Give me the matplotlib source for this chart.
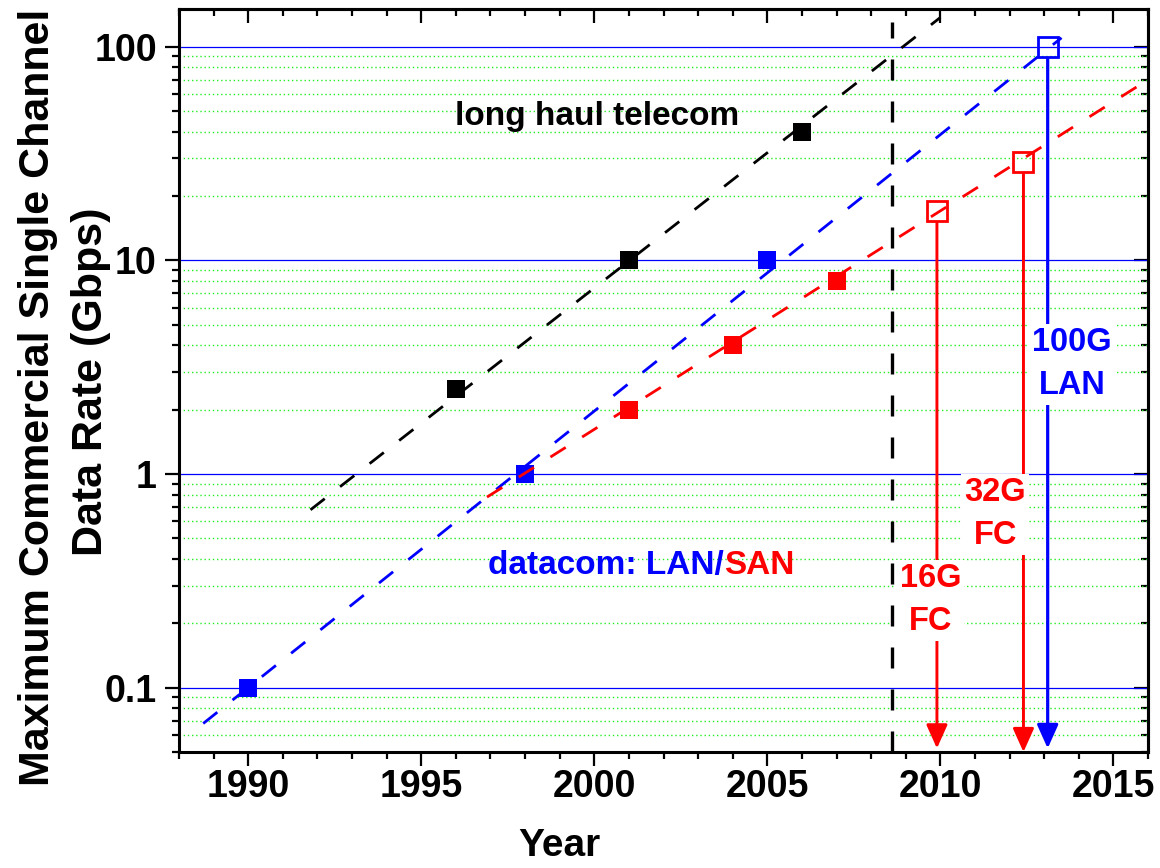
import matplotlib

matplotlib.use("Agg")
import matplotlib.pyplot as plt
from matplotlib.ticker import FixedLocator, LogLocator, MultipleLocator, NullFormatter

plt.rcParams["font.family"] = ["Liberation Sans", "DejaVu Sans"]
plt.rcParams["font.weight"] = "bold"

# measured single-channel rates (Gbps)
telecom_years = [1996, 2001, 2006]
telecom_rates = [2.5, 10, 40]
lan_years = [1990, 1998, 2005]
lan_rates = [0.1, 1, 10]
san_years = [2001, 2004, 2007]
san_rates = [2, 4, 8]

# announced / projected products
fc_next_years = [2009.9, 2012.4]
fc_next_rates = [17, 29]
fc_next_labels = ["16G\nFC", "32G\nFC"]
lan_next_years = [2013.1]
lan_next_rates = [100]
lan_next_labels = ["100G\nLAN"]

# trend lines (end points)
telecom_trend_years = [1991.8, 2010.0]
telecom_trend_rates = [0.68, 137]
lan_trend_years = [1988.7, 2013.5]
lan_trend_rates = [0.068, 110]
san_trend_years = [1996.9, 2016.0]
san_trend_rates = [0.78, 70]
today_year = 2008.6

year_ticks = [1990, 1995, 2000, 2005, 2010, 2015]
rate_ticks = [0.1, 1, 10, 100]
rate_tick_labels = ["0.1", "1", "10", "100"]

BLUE = "#0000ff"
RED = "#ff0000"

fig = plt.figure(figsize=(11.6, 8.68), dpi=100)
ax = fig.add_axes([0.1543, 0.1336, 0.8354, 0.8560])
ax.set_yscale("log")
ax.set_xlim(1988, 2016)
ax.set_ylim(0.05, 150)

ax.set_xticks(year_ticks)
ax.xaxis.set_minor_locator(MultipleLocator(1))
ax.set_yticks(rate_ticks, rate_tick_labels)
ax.yaxis.set_minor_locator(LogLocator(base=10, subs=range(2, 10)))
ax.yaxis.set_minor_formatter(NullFormatter())

ax.grid(True, which="major", axis="y", color=BLUE, lw=0.9)
ax.grid(True, which="minor", axis="y", color="#22ee22", lw=1.0, linestyle=(0, (1, 2)))
ax.set_axisbelow(True)

ax.tick_params(which="both", direction="out", width=1.6, labelsize=27, top=False, right=False)
ax.tick_params(which="major", length=10)
ax.tick_params(which="minor", length=5)
ax.tick_params(axis="x", pad=2)
ax.tick_params(axis="y", pad=6)
for sp in ax.spines.values():
    sp.set_linewidth(2.2)

# mirrored ticks pointing inwards on top and right
top = ax.secondary_xaxis("top")
top.xaxis.set_major_locator(FixedLocator(year_ticks))
top.xaxis.set_minor_locator(MultipleLocator(1))
top.tick_params(which="both", direction="in", width=1.6, labeltop=False)
top.tick_params(which="major", length=10)
top.tick_params(which="minor", length=5)
top.spines["top"].set_linewidth(2.2)

right = ax.secondary_yaxis("right")
right.yaxis.set_major_locator(FixedLocator(rate_ticks))
right.yaxis.set_minor_locator(LogLocator(base=10, subs=range(2, 10)))
right.yaxis.set_major_formatter(NullFormatter())
right.yaxis.set_minor_formatter(NullFormatter())
right.tick_params(which="both", direction="in", width=1.6, labelright=False)
right.tick_params(which="major", length=10)
right.tick_params(which="minor", length=5)
right.spines["right"].set_linewidth(2.2)

# data points
ax.plot(telecom_years, telecom_rates, "s", color="black", ms=13.5, mew=0, zorder=3)
ax.plot(lan_years, lan_rates, "s", color=BLUE, ms=13.5, mew=0, zorder=3)
ax.plot(san_years, san_rates, "s", color=RED, ms=13.5, mew=0, zorder=3)
ax.plot(fc_next_years, fc_next_rates, "s", mfc="none", mec=RED, ms=15, mew=2, zorder=3)
ax.plot(lan_next_years, lan_next_rates, "s", mfc="none", mec=BLUE, ms=15, mew=2, zorder=3)

# trend lines
dash = (0, (6.5, 7))
ax.plot(telecom_trend_years, telecom_trend_rates, color="black", lw=2, linestyle=dash, zorder=4)
ax.plot(lan_trend_years, lan_trend_rates, color=BLUE, lw=2, linestyle=dash, zorder=4)
ax.plot(san_trend_years, san_trend_rates, color=RED, lw=2, linestyle=dash, zorder=4)
ax.plot([today_year, today_year], [0.05, 130], color="black", lw=2.4,
        linestyle=(0, (6.3, 6.3)), zorder=4)

# arrows from the projected products down to the axis
arrow_tips = [0.052, 0.05]
for yr, rate, tip in zip(fc_next_years, fc_next_rates, arrow_tips):
    ax.annotate("", xy=(yr, tip), xytext=(yr, rate),
                arrowprops=dict(arrowstyle="-|>,head_length=1.45,head_width=0.65", color=RED,
                                lw=2.1, shrinkA=8.5, shrinkB=0, mutation_scale=10),
                zorder=4, annotation_clip=False)
for yr, rate in zip(lan_next_years, lan_next_rates):
    ax.annotate("", xy=(yr, 0.052), xytext=(yr, rate),
                arrowprops=dict(arrowstyle="-|>,head_length=1.45,head_width=0.65", color=BLUE,
                                lw=2.3, shrinkA=8.5, shrinkB=0, mutation_scale=10),
                zorder=4, annotation_clip=False)

box = dict(boxstyle="square,pad=0.1", fc="white", ec="none")
label_pos = [(2009.71, 0.256), (2011.58, 0.647)]
for (lx, ly), txt in zip(label_pos, fc_next_labels):
    ax.text(lx, ly, txt, color=RED, fontsize=23.5, ha="center", va="center",
            linespacing=1.5, bbox=box, zorder=6)
ax.text(2013.81, 3.26, lan_next_labels[0], color=BLUE, fontsize=23.5, ha="center", va="center",
        linespacing=1.5, bbox=box, zorder=6)

ax.text(2000.07, 43, "long haul telecom", color="black", fontsize=24, ha="center", va="baseline")
t1 = ax.text(1996.93, 0.34, "datacom: LAN/", color=BLUE, fontsize=24, ha="left", va="baseline")
ax.annotate("SAN", xy=(1, 0), xycoords=t1, color=RED, fontsize=24, ha="left", va="bottom")

ax.set_xlabel("Year", fontsize=28, fontweight="bold")
ax.xaxis.set_label_coords(0.393, -0.1023)

# two-line y axis title, each line placed on its own baseline
fig.text(49 / 1160, 1 - 397 / 868, "Maximum Commercial Single Channel", fontsize=31,
         fontweight="bold", rotation=90, rotation_mode="anchor", ha="center", va="baseline")
fig.text(102 / 1160, 1 - 382 / 868, "Data Rate (Gbps)", fontsize=31,
         fontweight="bold", rotation=90, rotation_mode="anchor", ha="center", va="baseline")

fig.savefig("out.png", dpi=100)
